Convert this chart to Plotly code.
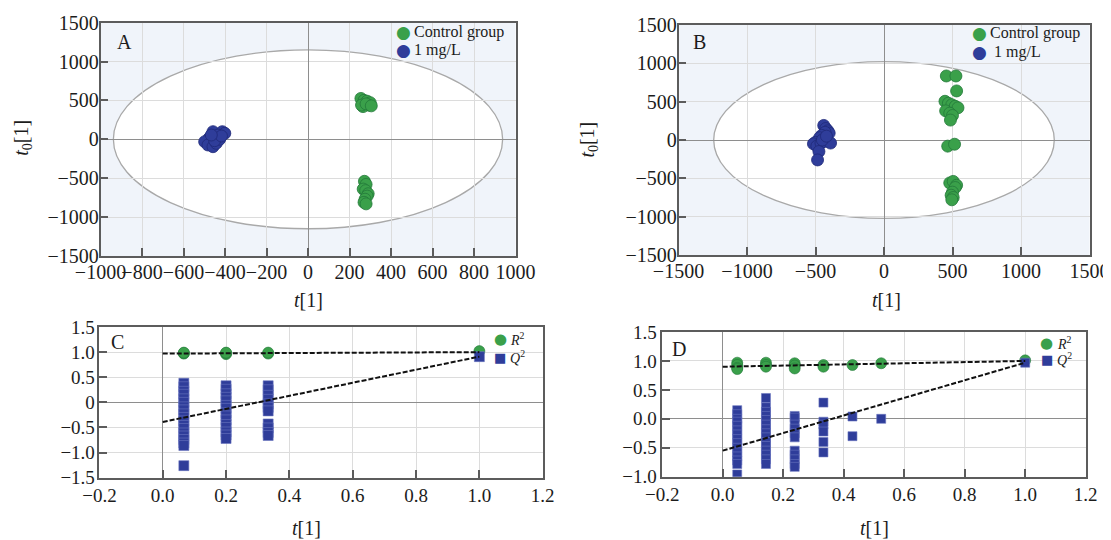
import plotly.graph_objects as go

# ---------------- data ----------------
# Panel A (OPLS-DA scores)
A_ctrl_x = [255, 270, 285, 300, 290, 265, 258, 280, 305, 272, 280, 266, 278, 290, 285, 275, 270, 280]
A_ctrl_y = [525, 500, 490, 470, 440, 420, 440, 455, 430, -540, -580, -640, -660, -700, -730, -770, -810, -830]
A_trt_x = [-458, -413, -401, -434, -477, -498, -482, -458, -442, -426, -450, -417, -466]
A_trt_y = [98, 98, 77, 55, 13, -31, -73, -95, -51, 0, -18, 42, 55]
A_ellipse = [938, 1150]

# Panel B (OPLS-DA scores)
B_ctrl_x = [455, 525, 530, 445, 470, 495, 520, 540, 450, 480, 500, 485, 465, 515,
            480, 505, 530, 520, 500, 490, 505, 495]
B_ctrl_y = [835, 835, 640, 505, 480, 460, 440, 420, 380, 350, 320, 260, -80, -55,
            -560, -540, -590, -620, -680, -720, -750, -780]
B_trt_x = [-440, -425, -410, -400, -430, -455, -470, -500, -515, -490, -460, -440, -390, -475, -485, -450, -420]
B_trt_y = [190, 150, 120, 90, 100, 60, 30, -30, -50, -80, -40, -20, -40, -150, -260, 0, 50]
B_ellipse = [1243, 1023]

# Panel C (permutation test)
C_r2_x = [0.0667, 0.0667, 0.0667, 0.2, 0.2, 0.2, 0.333, 0.333, 1.0]
C_r2_y = [0.97, 0.98, 0.99, 0.96, 0.98, 0.99, 0.97, 0.99, 1.02]
C_q2_cols = [0.0667, 0.2, 0.333, 1.0]
C_q2_vals = [
    [0.38, 0.31, 0.22, 0.16, 0.07, 0.0, -0.09, -0.15, -0.23, -0.3, -0.37, -0.46, -0.52, -0.61, -0.67, -0.74, -0.81, -0.86, -1.26],
    [0.33, 0.26, 0.17, 0.1, 0.03, -0.06, -0.12, -0.21, -0.27, -0.35, -0.44, -0.5, -0.59, -0.65, -0.72],
    [0.33, 0.25, 0.14, 0.06, -0.03, -0.1, -0.17, -0.43, -0.51, -0.6, -0.66],
    [0.91],
]
C_fit_x = [0.0, 1.0]
C_r2_fit = [0.97, 1.0]
C_q2_fit = [-0.39, 0.91]

# Panel D (permutation test)
D_r2_x = [0.048, 0.048, 0.048, 0.048, 0.143, 0.143, 0.143, 0.238, 0.238, 0.238, 0.333, 0.333, 0.429, 0.524, 1.0]
D_r2_y = [0.97, 0.93, 0.88, 0.86, 0.97, 0.93, 0.9, 0.96, 0.92, 0.87, 0.93, 0.9, 0.93, 0.96, 1.01]
D_q2_cols = [0.048, 0.143, 0.238, 0.333, 0.429, 0.524, 1.0]
D_q2_vals = [
    [0.15, 0.08, 0.0, -0.05, -0.12, -0.2, -0.27, -0.35, -0.42, -0.5, -0.58, -0.65, -0.72, -0.78, -0.96],
    [0.36, 0.2, 0.12, 0.05, -0.02, -0.1, -0.18, -0.25, -0.32, -0.4, -0.47, -0.55, -0.62, -0.7, -0.78],
    [0.05, 0.02, -0.1, -0.17, -0.25, -0.32, -0.55, -0.62, -0.7, -0.78, -0.83],
    [0.28, -0.05, -0.1, -0.22, -0.4, -0.58],
    [0.04, -0.3],
    [0.0],
    [0.97],
]
D_fit_x = [0.0, 1.0]
D_r2_fit = [0.90, 1.0]
D_q2_fit = [-0.55, 0.97]

# ticks
AB_y_ticks = [-1500, -1000, -500, 0, 500, 1000, 1500]
AB_y_text = ["\u22121500", "\u22121000", "\u2212500", "0", "500", "1000", "1500"]
A_x_ticks = [-1000, -800, -600, -400, -200, 0, 200, 400, 600, 800, 1000]
A_x_text = ["\u22121000", "\u2212800", "\u2212600", "\u2212400", "\u2212200", "0", "200", "400", "600", "800", "1000"]
B_x_ticks = [-1500, -1000, -500, 0, 500, 1000, 1500]
B_x_text = ["\u22121500", "\u22121000", "\u2212500", "0", "500", "1000", "1500"]
CD_x_ticks = [-0.2, 0.0, 0.2, 0.4, 0.6, 0.8, 1.0, 1.2]
CD_x_text = ["\u22120.2", "0.0", "0.2", "0.4", "0.6", "0.8", "1.0", "1.2"]
C_y_ticks = [-1.5, -1.0, -0.5, 0, 0.5, 1.0, 1.5]
C_y_text = ["\u22121.5", "\u22121.0", "\u22120.5", "0", "0.5", "1.0", "1.5"]
D_y_ticks = [-1.0, -0.5, 0.0, 0.5, 1.0, 1.5]
D_y_text = ["\u22121.0", "\u22120.5", "0.0", "0.5", "1.0", "1.5"]

# legend labels
AB_legend = ["Control group", "1 mg/L"]
CD_legend = ["<i>R</i><sup>2</sup>", "<i>Q</i><sup>2</sup>"]

# ---------------- style ----------------
FONT = "Liberation Serif"
GREEN = "#3aa04a"
GREEN_EDGE = "#23793a"
BLUE = "#2f3d9a"
BLUE_EDGE = "#1f2a78"
OFF = 8                      # page body margin of the html page
W, H = 1111 - OFF, 540 - OFF


def px_x(p):
    return (p - OFF) / W


def px_y(p):
    return 1 - (p - OFF) / H


fig = go.Figure()

# A
fig.add_trace(go.Scatter(x=A_ctrl_x, y=A_ctrl_y, mode="markers", name=AB_legend[0], showlegend=False,
                         marker=dict(color=GREEN, size=12, line=dict(color=GREEN_EDGE, width=0.8)),
                         xaxis="x", yaxis="y"))
fig.add_trace(go.Scatter(x=A_trt_x, y=A_trt_y, mode="markers", name=AB_legend[1], showlegend=False,
                         marker=dict(color=BLUE, size=12, line=dict(color=BLUE_EDGE, width=0.8)),
                         xaxis="x", yaxis="y"))
# B
fig.add_trace(go.Scatter(x=B_ctrl_x, y=B_ctrl_y, mode="markers", name=AB_legend[0], showlegend=False,
                         marker=dict(color=GREEN, size=12, line=dict(color=GREEN_EDGE, width=0.8)),
                         xaxis="x2", yaxis="y2"))
fig.add_trace(go.Scatter(x=B_trt_x, y=B_trt_y, mode="markers", name=AB_legend[1], showlegend=False,
                         marker=dict(color=BLUE, size=12, line=dict(color=BLUE_EDGE, width=0.8)),
                         xaxis="x2", yaxis="y2"))


def perm_panel(r2x, r2y, cols, vals, fx, r2fit, q2fit, xa, ya, sq):
    qx, qy = [], []
    for c, vs in zip(cols, vals):
        for v in vs:
            qx.append(c)
            qy.append(v)
    fig.add_trace(go.Scatter(x=r2x, y=r2y, mode="markers", name="R2", showlegend=False,
                             marker=dict(color=GREEN, size=11, line=dict(color=GREEN_EDGE, width=0.6)),
                             xaxis=xa, yaxis=ya))
    fig.add_trace(go.Scatter(x=qx, y=qy, mode="markers", name="Q2", showlegend=False,
                             marker=dict(color=BLUE, size=sq, symbol="square",
                                         line=dict(color="#6a76c0", width=0.6)),
                             xaxis=xa, yaxis=ya))
    for fit in (r2fit, q2fit):
        fig.add_trace(go.Scatter(x=fx, y=fit, mode="lines", showlegend=False,
                                 line=dict(color="#111", width=2, dash="5px,2px"),
                                 xaxis=xa, yaxis=ya, hoverinfo="skip"))


perm_panel(C_r2_x, C_r2_y, C_q2_cols, C_q2_vals, C_fit_x, C_r2_fit, C_q2_fit, "x3", "y3", 10)
perm_panel(D_r2_x, D_r2_y, D_q2_cols, D_q2_vals, D_fit_x, D_r2_fit, D_q2_fit, "x4", "y4", 9)

axis_common = dict(showline=True, mirror=True, linecolor="#5c5c5c", linewidth=1.5,
                   ticks="inside", ticklen=8, tickwidth=1.5, tickcolor="#5c5c5c",
                   showgrid=True, gridcolor="#dcdcdc", gridwidth=1,
                   zeroline=True, zerolinecolor="#8e8e8e", zerolinewidth=1.3,
                   tickangle=0, fixedrange=True, automargin=False)
big_font = dict(family=FONT, size=20, color="#1c1c1c")
small_font = dict(family=FONT, size=19, color="#1c1c1c")

# domains from pixel frames
A_dom = ([px_x(100.5), px_x(515.5)], [px_y(256), px_y(22.6)])
B_dom = ([px_x(678.5), px_x(1089.5)], [px_y(255), px_y(25)])
C_dom = ([px_x(99.4), px_x(542.7)], [px_y(477.7), px_y(327)])
D_dom = ([px_x(662.2), px_x(1085.7)], [px_y(476.7), px_y(332)])

fig.update_layout(
    width=W, height=H,
    margin=dict(l=0, r=0, t=0, b=0, autoexpand=False),
    paper_bgcolor="white", plot_bgcolor="white",
    font=dict(family=FONT, color="#1c1c1c"),
    showlegend=False,
    xaxis=dict(domain=A_dom[0], range=[-1000, 1000], tickvals=A_x_ticks, ticktext=A_x_text,
               tickfont=big_font, anchor="y", ticklabelstandoff=-3, **axis_common),
    yaxis=dict(domain=A_dom[1], range=[-1500, 1500], tickvals=AB_y_ticks, ticktext=AB_y_text,
               tickfont=big_font, anchor="x", ticklabelstandoff=-4, **axis_common),
    xaxis2=dict(domain=B_dom[0], range=[-1500, 1500], tickvals=B_x_ticks, ticktext=B_x_text,
                tickfont=big_font, anchor="y2", ticklabelstandoff=-3, **axis_common),
    yaxis2=dict(domain=B_dom[1], range=[-1500, 1500], tickvals=AB_y_ticks, ticktext=AB_y_text,
                tickfont=big_font, anchor="x2", ticklabelstandoff=-4, **axis_common),
    xaxis3=dict(domain=C_dom[0], range=[-0.2, 1.2], tickvals=CD_x_ticks, ticktext=CD_x_text,
                tickfont=small_font, anchor="y3", **axis_common),
    yaxis3=dict(domain=C_dom[1], range=[-1.5, 1.5], tickvals=C_y_ticks, ticktext=C_y_text,
                tickfont=small_font, anchor="x3", ticklabelstandoff=-1, **axis_common),
    xaxis4=dict(domain=D_dom[0], range=[-0.2, 1.2], tickvals=CD_x_ticks, ticktext=CD_x_text,
                tickfont=small_font, anchor="y4", **axis_common),
    yaxis4=dict(domain=D_dom[1], range=[-1.0, 1.5], tickvals=D_y_ticks, ticktext=D_y_text,
                tickfont=small_font, anchor="x4", **axis_common),
)

# background (light blue) + Hotelling ellipses for A and B
for xr, yr, ell in (("x", "y", A_ellipse), ("x2", "y2", B_ellipse)):
    fig.add_shape(type="rect", xref=xr + " domain", yref=yr + " domain", x0=0, x1=1, y0=0, y1=1,
                  fillcolor="#f0f4fa", line=dict(width=0), layer="below")
    fig.add_shape(type="circle", xref=xr, yref=yr, x0=-ell[0], x1=ell[0], y0=-ell[1], y1=ell[1],
                  fillcolor="white", line=dict(color="#a9a9a9", width=1.3), layer="below")


def add_text(text, x, y, size, ang=0, anchor="center", color="#1c1c1c", family=FONT):
    fig.add_annotation(text=text, x=px_x(x), y=px_y(y), xref="paper", yref="paper",
                       showarrow=False, textangle=ang, xanchor=anchor, yanchor="middle",
                       font=dict(family=family, size=size, color=color), borderpad=0)


# panel letters and axis titles
for t, x, y in (("A", 124, 41.7), ("B", 699.6, 41.7), ("C", 117, 341.7), ("D", 678.5, 349.3)):
    add_text(t, x, y, 20)
for x, y in ((308, 300), (886, 300), (306.4, 528.3), (874.6, 528.3)):
    add_text("<i>t</i>[1]", x, y, 20)
for x, y in ((21.7, 138), (587.6, 140)):
    add_text("<i>t</i><sub>0</sub>[1]", x, y, 20, ang=-90)

# legends (symbol glyph + label)
legend_specs = [
    # (symbol x, first row y, row gap, text x (per row), labels, font size, glyphs, glyph sizes)
    (403, 32, 18, (413, 413), AB_legend, 16, ("\u25cf", "\u25cf"), (17, 17)),
    (979.3, 33.3, 18.4, (989, 993), AB_legend, 16, ("\u25cf", "\u25cf"), (17, 17)),
    (500, 339, 18.3, (509.3, 509.3), CD_legend, 14, ("\u25cf", "\u25a0"), (15, 13)),
    (1046.8, 342.7, 16.6, (1055.6, 1055.6), CD_legend, 14, ("\u25cf", "\u25a0"), (15, 13)),
]
for sx, sy, gap, txs, labels, fs, syms, ssz in legend_specs:
    for i, (lab, col) in enumerate(zip(labels, (GREEN, BLUE))):
        yy = sy + i * gap
        add_text(syms[i], sx, yy, ssz[i], color=col, family="DejaVu Sans")
        add_text(lab, txs[i], yy, fs, anchor="left")

fig.write_html("out.html")
